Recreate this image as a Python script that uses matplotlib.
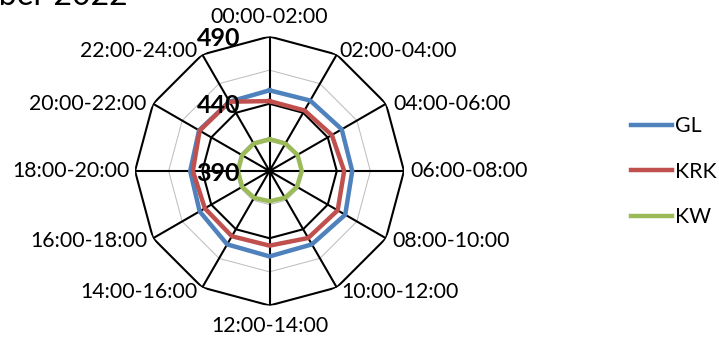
import numpy as np
import matplotlib
matplotlib.use("Agg")
import matplotlib.pyplot as plt

plt.rcParams["font.family"] = ["Lato", "DejaVu Sans"]

categories = ["00:00-02:00", "02:00-04:00", "04:00-06:00", "06:00-08:00",
              "08:00-10:00", "10:00-12:00", "12:00-14:00", "14:00-16:00",
              "16:00-18:00", "18:00-20:00", "20:00-22:00", "22:00-24:00"]
gl = [450, 450.5, 452, 451.5, 455, 453, 453.5, 453, 450, 449, 450.5, 449.5]
krk = [442, 442, 443.5, 445.5, 448.5, 447.5, 445.5, 446, 445.5, 447, 450, 449.5]
kw = [413.5, 413.5, 414, 414, 413.5, 413, 412.5, 413, 413.5, 413.5, 413.5, 413.5]
series_names = ["GL", "KRK", "KW"]
series_colors = ["#4F81BD", "#C0504D", "#9BBB59"]
major_levels = [390, 440, 490]
minor_levels = [415, 465]
title = "December 2022"

fig = plt.figure(figsize=(7.19, 3.39), dpi=100)
ax = fig.add_axes([0.1878, 0.0988, 0.3741, 0.7935], projection="polar")
ax.set_theta_offset(np.pi / 2)
ax.set_theta_direction(-1)
ax.set_ylim(major_levels[0], major_levels[-1])
ax.grid(False)
ax.set_xticks([])
ax.set_yticks([])
ax.spines["polar"].set_visible(False)
ax.patch.set_visible(False)

n = len(categories)
theta = np.arange(n) * 2 * np.pi / n
closed = np.append(theta, theta[0])

# polygon grid
for lv in minor_levels:
    ax.plot(closed, [lv] * (n + 1), color="#BFBFBF", lw=0.75, zorder=1)
for lv in major_levels[1:]:
    ax.plot(closed, [lv] * (n + 1), color="black", lw=1.5, zorder=2)
for t in theta:
    ax.plot([t, t], [major_levels[0], major_levels[-1]], color="black", lw=1.5, zorder=2)

# data series
handles = []
for vals, name, col in zip([gl, krk, kw], series_names, series_colors):
    ln, = ax.plot(closed, np.append(vals, vals[0]), color=col, lw=3.2,
                  solid_joinstyle="round", zorder=3, label=name)
    handles.append(ln)

# radial value labels
for lv in major_levels:
    ax.annotate(str(lv), xy=(0, lv), xytext=(-29.5, -2), textcoords="offset pixels",
                ha="right", va="center", fontsize=18, fontweight="bold", zorder=5,
                annotation_clip=False)

# category labels
offsets = [(0, 20, "center"), (3, 4, "left"), (7, 0, "left"), (6, 0, "left"),
           (6, -3, "left"), (5, -5, "left"), (0, -21, "center"), (-5, -5, "right"),
           (-6, -3, "right"), (-5, 0, "right"), (-7, 0, "right"), (-5, 4, "right")]
for t, lab, (dx, dy, ha) in zip(theta, categories, offsets):
    ax.annotate(lab, xy=(t, major_levels[-1]), xytext=(dx, dy), textcoords="offset pixels",
                ha=ha, va="center", fontsize=15.3, annotation_clip=False)

fig.legend(handles=handles, labels=series_names, loc="center left",
           bbox_to_anchor=(630.7 / 719, 1 - 171.5 / 339), frameon=False,
           fontsize=15.3, handlelength=1.92, handletextpad=0.15, labelspacing=1.2,
           borderpad=0, borderaxespad=0)

fig.text(128 / 719, 1 - 5 / 339, title, ha="right", va="baseline", fontsize=23)

fig.savefig("out.png", dpi=100)
